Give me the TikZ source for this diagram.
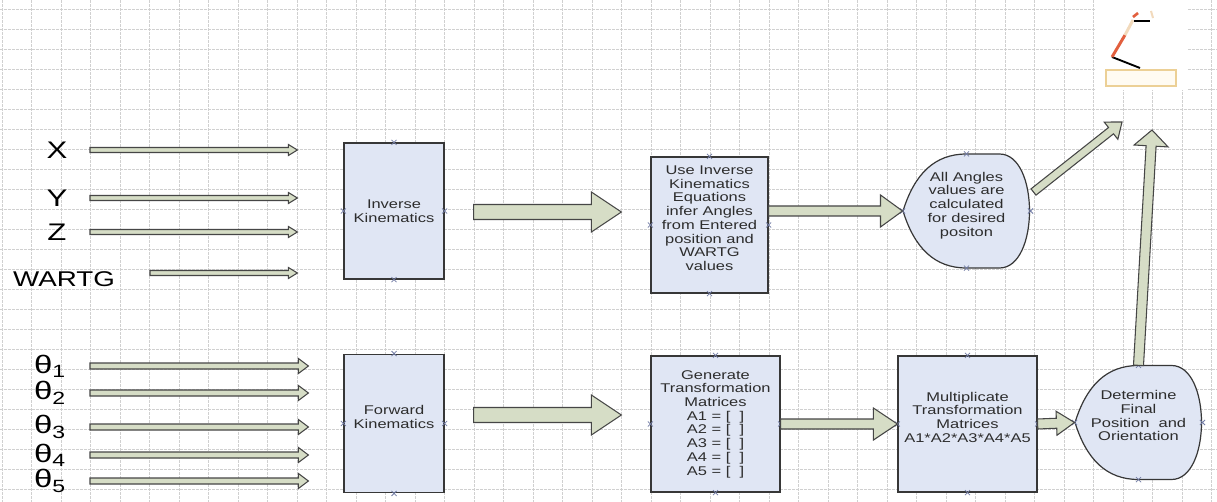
\documentclass[tikz,border=0pt]{standalone}
\usepackage{fontspec}
\setmainfont{Liberation Sans}[FakeStretch=1.3]
\usepackage{tikz}
\usetikzlibrary{calc,shapes.misc}
\tikzset{every picture/.style={line width=0.75pt}}

\definecolor{boxfill}{RGB}{224,230,244}
\definecolor{boxline}{RGB}{55,55,55}
\definecolor{arrfill}{RGB}{214,221,198}
\definecolor{arrline}{RGB}{70,70,70}
\definecolor{gridcol}{RGB}{208,208,208}
\definecolor{mkcol}{RGB}{115,125,165}
\definecolor{txtcol}{RGB}{45,45,45}
\definecolor{armred}{RGB}{226,95,62}
\definecolor{armbeige}{RGB}{242,218,188}
\definecolor{basecol}{RGB}{236,208,150}

\tikzset{
  gridline/.style={draw=gridcol, line width=0.45pt, dash pattern=on 2pt off 1pt},
  xmark/.style={cross out, draw=mkcol, line width=0.6pt, minimum size=3.2pt, inner sep=0pt, anchor=center},
  cmarks/.style={label={[xmark]north:},label={[xmark]south:},label={[xmark]east:},label={[xmark]west:}},
  boxfont/.style={font=\fontsize{9.5}{10.3}\selectfont, text=txtcol},
  vbox/.style={draw=boxline, fill=boxfill, line width=0.9pt, align=center, inner sep=0pt, boxfont, cmarks},
  dtext/.style={align=center, inner sep=0pt, minimum width=95.25pt, minimum height=85pt, boxfont, cmarks},
  inlbl/.style={font=\fontsize{18}{20}\selectfont, inner sep=1pt},
  thlbl/.style={font=\fontsize{19}{21}\selectfont, inner sep=1pt},
  barrow/.style={draw=arrline, fill=arrfill, line width=0.8pt, line join=miter},
  pics/dispshape/.style={code={
    \draw[draw=boxline, fill=boxfill, line width=0.9pt] (-63.5,0) .. controls (-52,-37) and (-32,-57) .. (0,-57) -- (33,-57) .. controls (73,-57) and (73,57) .. (33,57) -- (0,57) .. controls (-32,57) and (-52,37) .. cycle;
  }}
}

% block arrow: start, end, half shaft, half head, head length (in px)
\newcommand{\blockarrow}[5]{%
  \path #1 coordinate (ba-s) #2 coordinate (ba-t);
  \path ($(ba-t)!#5*0.75pt!(ba-s)$) coordinate (ba-h);
  \draw[barrow] ($(ba-s)!#3*0.75pt!90:(ba-t)$) -- ($(ba-h)!#3*0.75pt!90:(ba-t)$) -- ($(ba-h)!#4*0.75pt!90:(ba-t)$) -- (ba-t) -- ($(ba-h)!#4*0.75pt!-90:(ba-t)$) -- ($(ba-h)!#3*0.75pt!-90:(ba-t)$) -- ($(ba-s)!#3*0.75pt!-90:(ba-t)$) -- cycle;}

\begin{document}
\begin{tikzpicture}[x=0.75pt,y=0.75pt,yscale=-1,xscale=1]
\useasboundingbox (0,0) rectangle (1217,502);
\fill[white] (0,0) rectangle (1217,502);

%Grid
\foreach \gx in {2,31.5,...,1217} \draw[gridline] (\gx,0) -- (\gx,502);
\foreach \gy in {9,29,...,502} \draw[gridline] (0,\gy) -- (1217,\gy);

%Shape: robot picture
\fill[white] (1096,0) rectangle (1188,90);
\draw[draw=basecol, fill={rgb,255:red,255;green,251;blue,242}, line width=1.2pt] (1106,70) rectangle (1176,86);
\draw[line width=1.4pt] (1140,68) -- (1112,57);
\draw[armred, line width=2.2pt] (1112,57) -- (1125,35);
\draw[armbeige, line width=2.2pt] (1125,35) -- (1133,20);
\draw[line width=1.1pt] (1134,21) -- (1150,21);
\draw[armred, line width=2pt] (1133,17) -- (1138,13);
\draw[armbeige, line width=1.5pt] (1151,11) -- (1153,18);

%Shape: Rectangle
\node[vbox, minimum width=75pt, minimum height=102pt] (ik) at (394,211) {Inverse\\Kinematics};
%Shape: Rectangle
\node[vbox, minimum width=75pt, minimum height=104pt] (fk) at (394,423.5) {Forward\\Kinematics\\ \mbox{}};
%Shape: Rectangle
\node[vbox, minimum width=87.75pt, minimum height=102pt] (usebox) at (709.5,225) {Use Inverse\\Kinematics\\Equations\\infer Angles\\from Entered\\position and\\WARTG\\values\\ \mbox{}};
%Shape: Rectangle
\node[vbox, minimum width=96.75pt, minimum height=102pt] (genbox) at (715.5,424) {Generate\\Transformation\\Matrices\\A1 = [\ \ ]\\A2 = [\ \ ]\\A3 = [\ \ ]\\A4 = [\ \ ]\\A5 = [\ \ ]};
%Shape: Rectangle
\node[vbox, minimum width=104.25pt, minimum height=102pt] (mulbox) at (967.5,424) {Multiplicate\\Transformation\\Matrices\\A1*A2*A3*A4*A5\\ \mbox{}};

%Shape: Display
\coordinate (angc) at (966.5,211);
\pic at (angc) {dispshape};
\node[dtext] (angs) at (angc) {All Angles\\values are\\calculated\\for desired\\positon\\ \mbox{}};
%Shape: Display
\coordinate (detc) at (1138.5,422.5);
\pic at (detc) {dispshape};
\node[dtext] (dets) at (detc) {Determine\\Final\\Position~ and\\Orientation\\ \mbox{}};

% Text Node
\node[inlbl] (lX) at (57,150) {X};
\node[inlbl] (lY) at (57,198) {Y};
\node[inlbl] (lZ) at (57,232) {Z};
\node[inlbl, font=\fontsize{16}{18}\selectfont] (lW) at (64,279) {WARTG};
\node[thlbl] (lt1) at (50,366) {θ\textsubscript{1}};
\node[thlbl] (lt2) at (50,393) {θ\textsubscript{2}};
\node[thlbl] (lt3) at (50,427) {θ\textsubscript{3}};
\node[thlbl] (lt4) at (50,455) {θ\textsubscript{4}};
\node[thlbl] (lt5) at (50,481) {θ\textsubscript{5}};

%Free arrow ends
\coordinate (tipA) at (1122,122);
\coordinate (tipB) at (1152,130);

%Block Arrows
\blockarrow{($(lX)+(33,0)$)}{($(lX -| ik.west)+(-46,0)$)}{2.5}{5.5}{9}
\blockarrow{($(lY)+(33,0)$)}{($(lY -| ik.west)+(-46,0)$)}{2.5}{5.5}{9}
\blockarrow{($(lZ)+(33,0)$)}{($(lZ -| ik.west)+(-46,0)$)}{2.5}{5.5}{9}
\blockarrow{($(lW)+(86,-6)$)}{($(lW -| ik.west)+(-46,-6)$)}{2.5}{5.5}{9}
\blockarrow{($(lt1)+(40,0)$)}{($(lt1 -| fk.west)+(-35,0)$)}{3}{7.5}{10}
\blockarrow{($(lt2)+(40,0)$)}{($(lt2 -| fk.west)+(-35,0)$)}{3}{7.5}{10}
\blockarrow{($(lt3)+(40,0)$)}{($(lt3 -| fk.west)+(-35,0)$)}{3}{7.5}{10}
\blockarrow{($(lt4)+(40,0)$)}{($(lt4 -| fk.west)+(-35,0)$)}{3}{7.5}{10}
\blockarrow{($(lt5)+(40,0)$)}{($(lt5 -| fk.west)+(-35,0)$)}{3}{7.5}{10}
\blockarrow{($(ik.east)+(29,1)$)}{($(ik.east -| usebox.west)+(-29,1)$)}{7.5}{20}{30}
\blockarrow{($(fk.east)+(29,-8.5)$)}{($(fk.east -| genbox.west)+(-29,-8.5)$)}{7.5}{20}{30}
\blockarrow{(usebox.east |- angs.west)}{(angs.west)}{5}{16}{22}
\blockarrow{(genbox.east)}{(mulbox.west)}{5}{16}{24}
\blockarrow{(mulbox.east)}{(dets.west)}{5}{12}{18}
\blockarrow{($(angs.east)+(3,-19)$)}{(tipA)}{4}{11}{14}
\blockarrow{(dets.north)}{(tipB)}{5}{17}{16}

\end{tikzpicture}
\end{document}
